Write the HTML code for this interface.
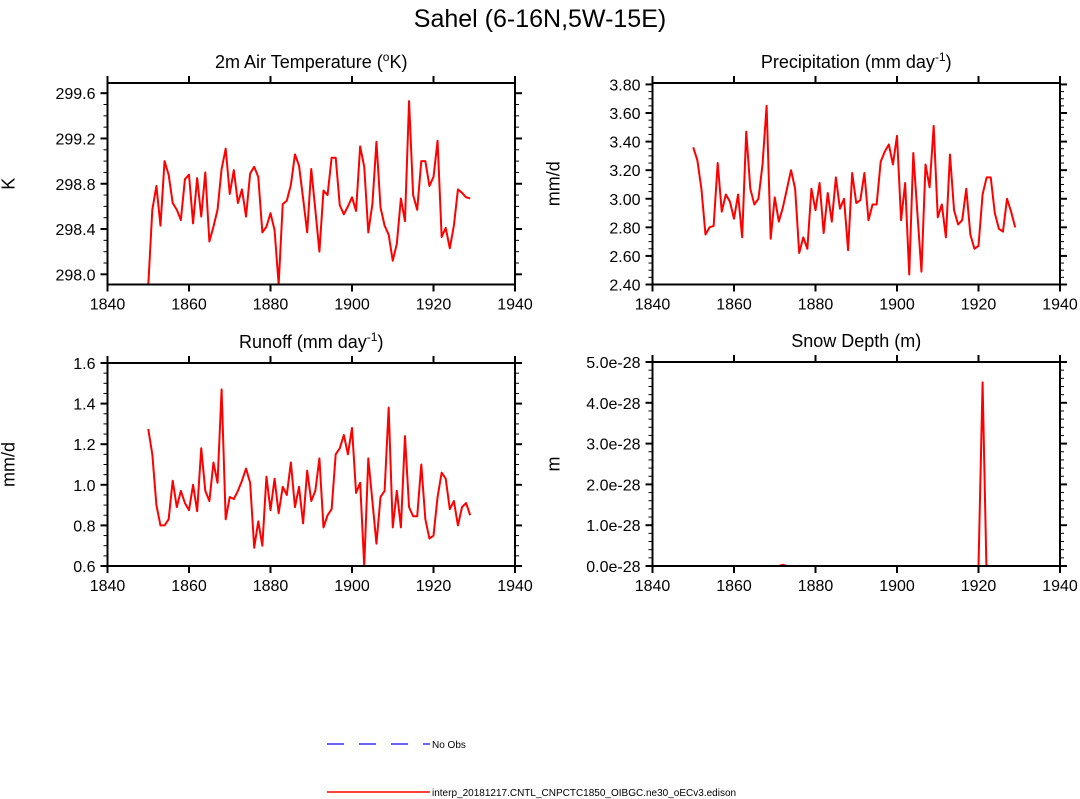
<!DOCTYPE html>
<html><head><meta charset="utf-8"><style>
body{margin:0;background:#fff;}
svg{display:block;font-family:"Liberation Sans",Arial,sans-serif;}
</style></head><body>
<svg id="chart" width="1080" height="799" viewBox="0 0 1080 799">
<text x="540" y="27" font-size="25" text-anchor="middle">Sahel (6-16N,5W-15E)</text>
<g id="plots"></g>
<g>
<line x1="327" y1="744" x2="430" y2="744" stroke="#3333ff" stroke-width="1.5" stroke-dasharray="17,15"/>
<text x="432" y="748" font-size="10">No Obs</text>
<line x1="327" y1="792" x2="430" y2="792" stroke="#ff0000" stroke-width="1.5"/>
<text x="432" y="796" font-size="10">interp_20181217.CNTL_CNPCTC1850_OIBGC.ne30_oECv3.edison</text>
</g>
</svg>
<script>
const years = Array.from({length:80},(_,i)=>1850+i);
const xTicks = [1840,1860,1880,1900,1920,1940];
const tempValues = [297.9,298.57,298.78,298.43,299.0,298.88,298.63,298.57,298.48,298.84,298.88,298.45,298.85,298.51,298.90,298.29,298.42,298.57,298.93,299.11,298.71,298.92,298.63,298.75,298.51,298.89,298.95,298.86,298.37,298.42,298.54,298.39,297.91,298.62,298.65,298.79,299.06,298.96,298.67,298.37,298.93,298.57,298.20,298.74,298.70,299.03,299.03,298.61,298.53,298.60,298.68,298.56,299.13,298.95,298.37,298.62,299.17,298.59,298.43,298.35,298.12,298.27,298.67,298.47,299.53,298.70,298.57,299.00,299.00,298.78,298.86,299.18,298.33,298.41,298.23,298.43,298.75,298.72,298.68,298.67];
const precValues = [3.36,3.27,3.07,2.75,2.80,2.81,3.25,2.91,3.03,2.98,2.86,3.03,2.73,3.47,3.07,2.96,3.00,3.24,3.65,2.72,3.01,2.84,2.94,3.07,3.20,3.07,2.62,2.73,2.65,3.07,2.92,3.11,2.76,3.04,2.84,3.15,2.93,3.00,2.64,3.18,2.97,2.99,3.18,2.85,2.96,2.96,3.26,3.33,3.38,3.24,3.44,2.85,3.11,2.47,3.32,2.90,2.49,3.24,3.08,3.51,2.87,2.96,2.73,3.31,2.92,2.82,2.85,3.07,2.75,2.65,2.67,3.03,3.15,3.15,2.90,2.79,2.77,3.00,2.91,2.80];
const runoffValues = [1.275,1.15,0.90,0.80,0.80,0.83,1.02,0.89,0.97,0.91,0.875,1.00,0.87,1.18,0.97,0.92,1.11,1.01,1.47,0.83,0.94,0.93,0.97,1.02,1.08,1.01,0.69,0.82,0.70,1.04,0.875,1.03,0.86,0.99,0.95,1.11,0.89,0.99,0.81,1.07,0.92,0.97,1.13,0.79,0.85,0.88,1.15,1.18,1.245,1.15,1.28,0.96,1.01,0.60,1.13,0.92,0.71,0.94,0.97,1.38,0.79,0.97,0.79,1.24,0.89,0.845,0.845,1.10,0.83,0.735,0.75,0.94,1.06,1.03,0.88,0.92,0.80,0.89,0.91,0.85];
const snowValues = years.map(y=>0);
snowValues[22]=0.03; snowValues[71]=4.5; snowValues[72]=-0.3;
const tempTicks = [298.0,298.4,298.8,299.2,299.6];
const precTicks = [2.40,2.60,2.80,3.00,3.20,3.40,3.60,3.80];
const runoffTicks = [0.6,0.8,1.0,1.2,1.4,1.6];
const snowTicks = [0,1,2,3,4,5];
const snowTickLabels = ["0.0e-28","1.0e-28","2.0e-28","3.0e-28","4.0e-28","5.0e-28"];

const NS="http://www.w3.org/2000/svg";
const root=document.getElementById('plots');
function mk(tag,attrs,parent){const e=document.createElementNS(NS,tag);for(const k in attrs)e.setAttribute(k,attrs[k]);parent.appendChild(e);return e;}

const panels=[
 {name:'temperature',title:'2m Air Temperature (<tspan font-size="12" dy="-7">o</tspan><tspan dy="7">K)</tspan>',ylab:'K',x0:107.5,x1:515,y0:83,y1:284.5,ymin:297.91,ymax:299.69,vals:tempValues,ticks:tempTicks,labels:tempTicks.map(v=>v.toFixed(1)),minor:0.1},
 {name:'precipitation',title:'Precipitation (mm day<tspan font-size="12" dy="-7">-1</tspan><tspan dy="7">)</tspan>',ylab:'mm/d',x0:652.5,x1:1060,y0:83,y1:284.5,ymin:2.40,ymax:3.81,vals:precValues,ticks:precTicks,labels:precTicks.map(v=>v.toFixed(2)),minor:0.05},
 {name:'runoff',title:'Runoff (mm day<tspan font-size="12" dy="-7">-1</tspan><tspan dy="7">)</tspan>',ylab:'mm/d',x0:107.5,x1:515,y0:363,y1:566,ymin:0.6,ymax:1.6,vals:runoffValues,ticks:runoffTicks,labels:runoffTicks.map(v=>v.toFixed(1)),minor:0.05},
 {name:'snow-depth',title:'Snow Depth (m)',ylab:'m',x0:652.5,x1:1060,y0:362,y1:566,ymin:0,ymax:5,vals:snowValues,ticks:snowTicks,labels:snowTickLabels,minor:0.2}
];
let cid=0;
panels.forEach(p=>{
 const g=mk('g',{},root);
 
 
 const xs=v=>p.x0+(v-1840)/100*(p.x1-p.x0);
 const ys=v=>p.y1-(v-p.ymin)/(p.ymax-p.ymin)*(p.y1-p.y0);
 const t=mk('text',{x:(p.x0+p.x1)/2,y:p.y0-15,'font-size':18,'text-anchor':'middle'},g);
 t.innerHTML=p.title;
 
 
 const yl=mk('text',{x:0,y:0,'font-size':18,'text-anchor':'middle',transform:`translate(${p.x0-93},${(p.y0+p.y1)/2}) rotate(-90)`},g);
 yl.textContent=p.ylab;
 
 
 const id='clip'+(cid++);
 const cp=mk('clipPath',{id:id},g);mk('rect',{x:p.x0,y:p.y0,width:p.x1-p.x0,height:p.y1-p.y0},cp);
 const pts=years.map((y,i)=>xs(y).toFixed(2)+','+ys(p.vals[i]).toFixed(2)).join(' ');
 const line=mk('polyline',{points:pts,fill:'none',stroke:'#ff0000','stroke-width':2,'stroke-linejoin':'round','clip-path':`url(#${id})`},g);
 
 
 const fr=mk('rect',{x:p.x0,y:p.y0,width:p.x1-p.x0,height:p.y1-p.y0,fill:'none',stroke:'#000','stroke-width':2},g);
 
 
 xTicks.forEach(v=>{const x=xs(v);
  mk('line',{x1:x,x2:x,y1:p.y1,y2:p.y1+7,stroke:'#000','stroke-width':2},g);
  mk('line',{x1:x,x2:x,y1:p.y0,y2:p.y0-7,stroke:'#000','stroke-width':2},g);
  const tl=mk('text',{x:x,y:p.y1+25,'font-size':16,'text-anchor':'middle'},g);tl.textContent=v;
  
  
 });
 for(let v=p.ymin;v<=p.ymax+1e-9;v+=p.minor){const vv=Math.round(v/p.minor)*p.minor;const y=ys(vv);if(y<p.y0-0.5||y>p.y1+0.5)continue;
  mk('line',{x1:p.x0,x2:p.x0-4,y1:y,y2:y,stroke:'#000','stroke-width':1},g);
  mk('line',{x1:p.x1,x2:p.x1+4,y1:y,y2:y,stroke:'#000','stroke-width':1},g);}
 p.ticks.forEach((v,i)=>{const y=ys(v);
  mk('line',{x1:p.x0,x2:p.x0-7,y1:y,y2:y,stroke:'#000','stroke-width':2},g);
  mk('line',{x1:p.x1,x2:p.x1+7,y1:y,y2:y,stroke:'#000','stroke-width':2},g);
  const tl=mk('text',{x:p.x0-12,y:y+6,'font-size':16,'text-anchor':'end'},g);tl.textContent=p.labels[i];
  
  
 });
});
</script>
</body></html>
